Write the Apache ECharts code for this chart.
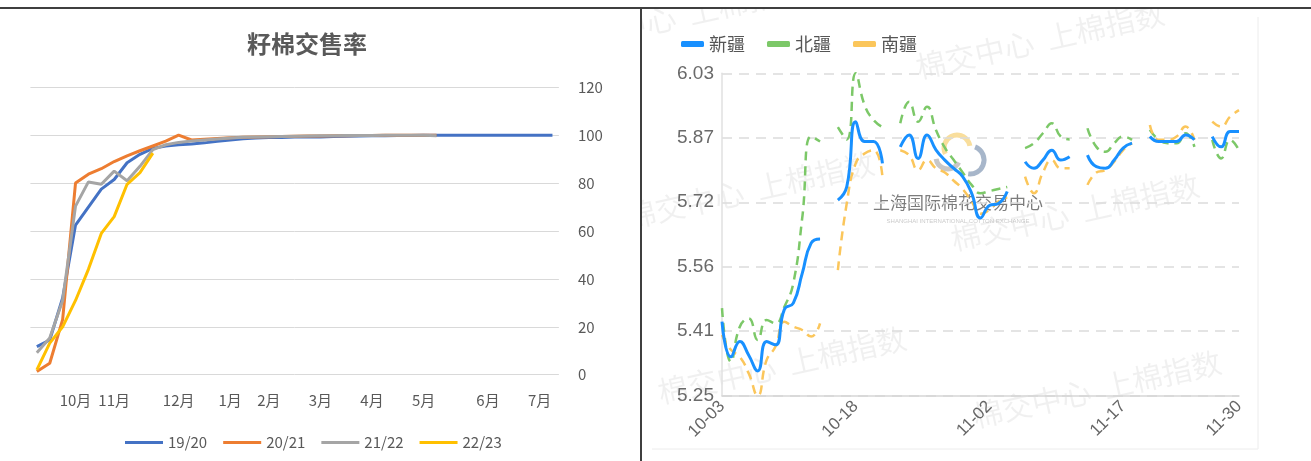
<!DOCTYPE html>
<html>
<head>
<meta charset="utf-8">
<script src="https://cdn.jsdelivr.net/npm/echarts@6.0.0/dist/echarts.min.js"></script>
<style>
  html, body { margin: 0; padding: 0; background: #fff; }
  #page { position: relative; width: 1311px; height: 461px; overflow: hidden; }
  #topRule { position: absolute; left: 0; top: 7px; width: 1311px; height: 2px; background: #3f3f3f; }
  #midRule { position: absolute; left: 640px; top: 7px; width: 2px; height: 454px; background: #3f3f3f; }
  #left { position: absolute; left: 0; top: 9px; width: 640px; height: 452px; }
  #right { position: absolute; left: 642px; top: 9px; width: 669px; height: 452px; }
</style>
</head>
<body>
<div id="page">
  <div id="left"></div>
  <div id="right"></div>
  <div id="topRule"></div>
  <div id="midRule"></div>
</div>
<script>
// ---- left panel: 籽棉交售率 ----
const seasonTicks = ['', '', '', '10月', '', '', '11月', '', '', '', '', '12月', '', '', '', '1月', '', '', '2月',
  '', '', '', '3月', '', '', '', '4月', '', '', '', '5月', '', '', '', '', '6月', '', '', '', '7月', ''];
const seasonNames = ['19/20', '20/21', '21/22', '22/23'];
const rate1920 = [11.7, 14.5, 32, 62.5, 70, 77.5, 81.5, 88.5, 92, 94.5,
  95.5, 96, 96.3, 96.8, 97.5, 98, 98.5, 98.8, 99, 99,
  99.2, 99.3, 99.3, 99.5, 99.6, 99.7, 99.8, 99.8, 99.9, 99.9,
  100, 100, 100, 100, 100, 100, 100, 100, 100, 100, 100];
const rate2021 = [1.3, 4.8, 23, 80, 83.7, 86, 89, 91.4, 93.5, 95.5,
  97.5, 100, 98, 98.3, 98.6, 98.9, 99.1, 99.3, 99.4, 99.5,
  99.6, 99.7, 99.7, 99.8, 99.8, 99.9, 99.9, 100, 100, 100, 100, 100];
const rate2122 = [9.2, 15.3, 31, 70.4, 80.5, 79.5, 85, 81, 87, 94,
  96, 97, 97.6, 98, 98.4, 98.8, 99.1, 99.3, 99.4, 99.5,
  99.6, 99.7, 99.8, 99.8, 99.9, 99.9, 99.9, 100, 100, 100, 100, 99.8];
const rate2223 = [2, 13.2, 20, 31, 44, 59, 66, 79.5, 84.4, 92.5];
const seasonColors = ['#4472c4', '#ed7d31', '#a5a5a5', '#ffc000'];

// ---- right panel: 新疆 / 北疆 / 南疆 ----
const days = ['10-03', '10-04', '10-05', '10-06', '10-07', '10-08', '10-09', '10-10', '10-11', '10-12',
  '10-13', '10-14', '10-15', '10-16', '10-17', '10-18', '10-19', '10-20', '10-21', '10-22',
  '10-23', '10-24', '10-25', '10-26', '10-27', '10-28', '10-29', '10-30', '10-31', '11-01',
  '11-02', '11-03', '11-04', '11-05', '11-06', '11-07', '11-08', '11-09', '11-10', '11-11',
  '11-12', '11-13', '11-14', '11-15', '11-16', '11-17', '11-18', '11-19', '11-20', '11-21',
  '11-22', '11-23', '11-24', '11-25', '11-26', '11-27', '11-28', '11-29', '11-30'];
const xinjiang = [5.429, 5.344, 5.381, 5.348, 5.31, 5.381, 5.373, 5.459, 5.474, 5.546,
  5.619, 5.629, null, 5.723, 5.756, 5.913, 5.865, 5.865, 5.812, null,
  5.852, 5.881, 5.824, 5.881, 5.845, 5.82, 5.8, 5.78, 5.74, 5.68,
  5.71, 5.715, 5.744, null, 5.816, 5.8, 5.82, 5.844, 5.82, 5.828,
  null, 5.832, 5.804, 5.8, 5.82, 5.849, 5.861, null, 5.877, 5.865,
  5.865, 5.865, 5.881, 5.869, null, 5.877, 5.852, 5.889, 5.889];
const beijiang = [5.462, 5.332, 5.417, 5.437, 5.385, 5.433, 5.425, 5.465, 5.522, 5.68,
  5.877, 5.865, null, 5.9, 5.87, 6.03, 5.953, 5.917, 5.9, null,
  5.909, 5.961, 5.913, 5.949, 5.893, 5.85, 5.82, 5.79, 5.76, 5.74,
  5.745, 5.75, 5.755, null, 5.849, 5.861, 5.885, 5.909, 5.877, 5.87,
  null, 5.897, 5.852, 5.84, 5.861, 5.877, 5.869, null, 5.893, 5.869,
  5.861, 5.861, 5.885, 5.852, null, 5.869, 5.824, 5.869, 5.844];
const nanjiang = [5.397, 5.361, 5.344, 5.304, 5.25, 5.336, 5.369, 5.429, 5.417, 5.409,
  5.393, 5.425, null, 5.554, 5.716, 5.812, 5.836, 5.844, 5.78, null,
  5.844, 5.832, 5.796, 5.82, 5.8, 5.79, 5.77, 5.75, 5.72, 5.69,
  5.7, 5.72, 5.73, null, 5.78, 5.74, 5.79, 5.82, 5.8, 5.8,
  null, 5.76, 5.79, 5.796, 5.816, 5.844, 5.861, null, 5.905, 5.869,
  5.869, 5.877, 5.901, 5.869, null, 5.913, 5.901, 5.925, 5.941];
const regionNames = ['新疆', '北疆', '南疆'];
const regionColors = ['#1890ff', '#7cc868', '#fbc65b'];
const watermark = '棉交中心  上棉指数';

const narrow = "'Liberation Sans Narrow', 'Noto Sans CJK SC', sans-serif";
const sans = "Arial, 'Liberation Sans', 'Noto Sans CJK SC', sans-serif";

const left = echarts.init(document.getElementById('left'));
left.setOption({
  animation: false,
  title: {
    text: '籽棉交售率',
    left: 302,
    top: 18,
    textAlign: 'center',
    textStyle: { fontSize: 24, fontWeight: 'bold', color: '#595959', fontFamily: "'Noto Sans CJK SC', sans-serif" },
  },
  legend: {
    left: 120,
    top: 421,
    icon: 'rect',
    itemWidth: 38,
    itemHeight: 3,
    itemGap: 16,
    textStyle: { fontSize: 15, color: '#595959', fontFamily: narrow },
    data: seasonNames,
  },
  grid: { left: 30.4, top: 78.3, width: 528.5, height: 287.4, containLabel: false, outerBoundsMode: 'none' },
  xAxis: {
    type: 'category',
    boundaryGap: true,
    data: seasonTicks,
    axisLine: { show: false },
    axisTick: { show: false },
    axisLabel: { interval: 0, margin: 18, fontSize: 15, color: '#595959', fontFamily: narrow },
  },
  yAxis: {
    type: 'value',
    position: 'right',
    min: 0,
    max: 120,
    interval: 20,
    axisLine: { show: false },
    axisTick: { show: false },
    axisLabel: { margin: 19, fontSize: 15, color: '#595959', fontFamily: narrow },
    splitLine: { lineStyle: { color: '#d9d9d9', width: 1 } },
  },
  series: [rate1920, rate2021, rate2122, rate2223].map((data, i) => ({
    name: seasonNames[i],
    type: 'line',
    data,
    symbol: 'none',
    lineStyle: { width: 3, color: seasonColors[i] },
    itemStyle: { color: seasonColors[i] },
  })),
});

// watermark placement on the right panel
const marks = [[40, 6], [398, 31], [108, 181], [433, 203], [140, 356], [455, 380]];

const right = echarts.init(document.getElementById('right'));
right.setOption({
  animation: false,
  graphic: [
    ...marks.map(([x, y]) => ({
      type: 'text',
      x,
      y,
      rotation: 0.22,
      z: 0,
      silent: true,
      style: {
        text: watermark,
        fontSize: 30,
        fontFamily: "'Noto Sans CJK SC', sans-serif",
        fill: 'rgba(0,0,0,0.06)',
        align: 'center',
        verticalAlign: 'middle',
      },
    })),
    { type: 'arc', z: 0, silent: true, shape: { cx: 315, cy: 139, r: 13, startAngle: Math.PI * 0.85, endAngle: Math.PI * 1.95 },
      style: { stroke: 'rgba(245,200,90,0.6)', lineWidth: 5, fill: null } },
    { type: 'arc', z: 0, silent: true, shape: { cx: 328, cy: 151, r: 14, startAngle: -1.2, endAngle: 1.7 },
      style: { stroke: 'rgba(80,110,150,0.5)', lineWidth: 5, fill: null } },
    { type: 'arc', z: 0, silent: true, shape: { cx: 306, cy: 148, r: 12, startAngle: Math.PI * 0.15, endAngle: Math.PI * 0.95 },
      style: { stroke: 'rgba(130,130,130,0.45)', lineWidth: 5, fill: null } },
    { type: 'text', x: 316, y: 194, z: 0, silent: true,
      style: { text: '上海国际棉花交易中心', fontSize: 17, fontFamily: "'Noto Sans CJK SC', sans-serif",
        fill: 'rgba(80,80,80,0.75)', align: 'center', verticalAlign: 'middle' } },
    { type: 'text', x: 316, y: 212, z: 0, silent: true,
      style: { text: 'SHANGHAI INTERNATIONAL COTTON EXCHANGE', fontSize: 6, fontFamily: sans,
        fill: 'rgba(150,150,150,0.5)', align: 'center', verticalAlign: 'middle' } },
    { type: 'polyline', z: 0, silent: true,
      shape: { points: [[616, 8], [616, 440], [10, 440]] },
      style: { stroke: '#ececec', lineWidth: 1, fill: null } },
  ],
  legend: {
    left: 34,
    top: 21,
    icon: 'roundRect',
    itemWidth: 23,
    itemHeight: 6,
    itemGap: 22,
    textStyle: { fontSize: 18, color: '#555', fontFamily: "'Noto Sans CJK SC', sans-serif" },
    data: regionNames,
  },
  grid: { left: 80, top: 64.3, width: 517, height: 322.4, containLabel: false, outerBoundsMode: 'none' },
  xAxis: {
    type: 'category',
    boundaryGap: false,
    data: days,
    axisLine: { lineStyle: { color: '#d6d6d6', width: 1.5 } },
    axisTick: { show: false },
    axisLabel: {
      interval: (i) => i % 15 === 0 || i === days.length - 1,
      rotate: 45,
      margin: 8,
      fontSize: 17,
      color: '#666',
      fontFamily: sans,
    },
  },
  yAxis: {
    type: 'value',
    min: 5.25,
    max: 6.03,
    interval: 0.156,
    axisLine: { show: true, lineStyle: { color: '#e0e0e0', width: 1.5 } },
    axisTick: { show: false },
    axisLabel: { margin: 8, fontSize: 19, color: '#6a6a6a', fontFamily: sans, formatter: (v) => v.toFixed(2) },
    splitLine: { lineStyle: { color: '#dcdcdc', width: 1.5, type: [10, 7] } },
  },
  series: [xinjiang, beijiang, nanjiang].map((data, i) => ({
    name: regionNames[i],
    type: 'line',
    data,
    smooth: true,
    symbol: 'none',
    connectNulls: false,
    z: i === 0 ? 5 : 3,
    lineStyle: i === 0
      ? { width: 3, color: regionColors[i] }
      : { width: 2.5, color: regionColors[i], type: [9, 6] },
    itemStyle: { color: regionColors[i] },
  })),
});
</script>
</body>
</html>
